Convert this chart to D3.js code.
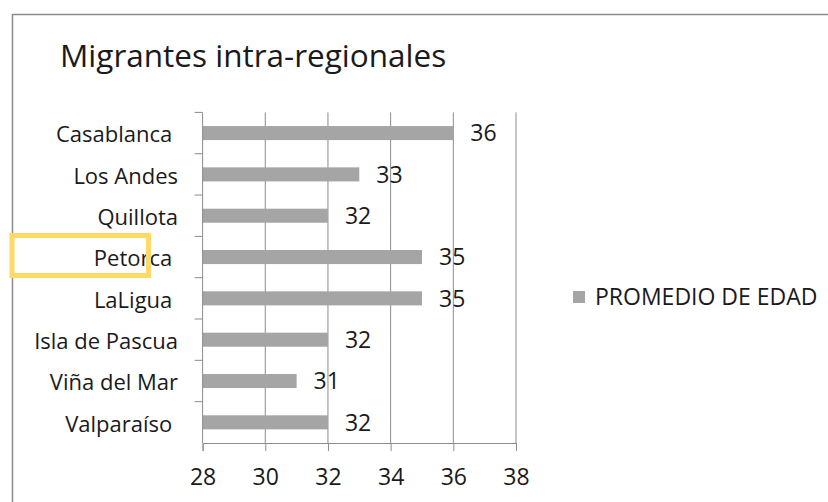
<!DOCTYPE html>
<html>
<head>
<meta charset="utf-8">
<script src="https://cdn.jsdelivr.net/npm/d3@7"></script>
<style>
  body { margin: 0; background: #fff; }
  text { font-family: "Open Sans", Lato, sans-serif; fill: #1a1a1a; }
  .cat { white-space: pre; }
</style>
</head>
<body>
<div id="chart"></div>
<script>
// data
var categories = ['Casablanca ', 'Los Andes', 'Quillota', 'Petorca ', 'LaLigua ', 'Isla de Pascua', 'Viña del Mar', 'Valparaíso ']
var edad = [36, 33, 32, 35, 35, 32, 31, 32]
var xTicks = [28, 30, 32, 34, 36, 38]
var seriesName = 'PROMEDIO DE EDAD'
var title = 'Migrantes intra-regionales'

const svgWidth = 828
const svgHeight = 502
const margin = { top: 112.4, left: 202.6 }
const graphWidth = 313.4
const graphHeight = 330.6

var svg = d3.select('#chart').append('svg')
    .attr('width', svgWidth)
    .attr('height', svgHeight)

// chart frame (only left and top edges show)
svg.append('path')
    .attr('d', `M12.5,${svgHeight} L12.5,14.5 L${svgWidth},14.5`)
    .attr('fill', 'none')
    .attr('stroke', '#8c8c8c')
    .attr('stroke-width', 1.5)

svg.append('text')
    .attr('x', 60)
    .attr('y', 67)
    .attr('font-size', 31.5)
    .text(title)

var graph = svg.append('g')
    .attr('transform', `translate(${margin.left}, ${margin.top})`)

//scales
const x = d3.scaleLinear().domain([28, 38]).range([0, graphWidth])
const y = d3.scaleBand().domain(categories).range([0, graphHeight]).paddingInner(0.66).paddingOuter(0.33)

// gridlines
graph.append('g')
    .selectAll('line')
    .data(xTicks.slice(1))
    .enter()
    .append('line')
    .attr('x1', d => x(d))
    .attr('x2', d => x(d))
    .attr('y1', 0)
    .attr('y2', graphHeight)
    .attr('stroke', '#8c8c8c')
    .attr('stroke-width', 1)

// bars
graph.append('g')
    .selectAll('rect')
    .data(edad)
    .enter()
    .append('rect')
    .attr('x', x(28))
    .attr('y', (d, i) => y(categories[i]))
    .attr('width', d => x(d) - x(28))
    .attr('height', y.bandwidth())
    .attr('fill', '#a5a5a5')

// value labels
graph.append('g')
    .selectAll('text')
    .data(edad)
    .enter()
    .append('text')
    .attr('x', d => x(d) + 17)
    .attr('y', (d, i) => y(categories[i]) + y.bandwidth() / 2)
    .attr('dy', '0.36em')
    .attr('font-size', 23)
    .text(d => d)

// x axis
var xAxis = d3.axisBottom(x).tickValues(xTicks).tickSizeOuter(0).tickSize(8).tickPadding(18)
var xAxisGroup = graph.append('g')
    .attr('transform', `translate(0, ${graphHeight})`)
    .call(xAxis)
xAxisGroup.select('.domain').attr('stroke', '#8c8c8c')
xAxisGroup.selectAll('.tick line').attr('stroke', '#8c8c8c')
xAxisGroup.selectAll('.tick text')
    .attr('font-size', 23)
    .attr('font-family', '"Open Sans", sans-serif')
    .attr('fill', '#1a1a1a')

// y axis: ticks sit on category boundaries
var yAxisGroup = graph.append('g')
yAxisGroup.append('line')
    .attr('x1', 0).attr('x2', 0)
    .attr('y1', 0).attr('y2', graphHeight)
    .attr('stroke', '#8c8c8c')
var step = y.step()
yAxisGroup.selectAll('line.tk')
    .data(d3.range(categories.length))
    .enter()
    .append('line')
    .attr('class', 'tk')
    .attr('x1', -8).attr('x2', 0)
    .attr('y1', i => i * step)
    .attr('y2', i => i * step)
    .attr('stroke', '#8c8c8c')
yAxisGroup.selectAll('text')
    .data(categories)
    .enter()
    .append('text')
    .attr('class', 'cat')
    .attr('x', 178 - margin.left)
    .attr('y', d => y(d) + y.bandwidth() / 2)
    .attr('dy', '0.42em')
    .attr('text-anchor', 'end')
    .attr('font-size', 22)
    .text(d => d)

// highlight box round Petorca
svg.append('rect')
    .attr('x', 12)
    .attr('y', 235.5)
    .attr('width', 136.5)
    .attr('height', 40)
    .attr('fill', 'none')
    .attr('stroke', '#ffd966')
    .attr('stroke-width', 5)

// legend
var legendGroup = svg.append('g').attr('transform', 'translate(573, 291)')
legendGroup.append('rect')
    .attr('width', 12)
    .attr('height', 12)
    .attr('fill', '#a5a5a5')
legendGroup.append('text')
    .attr('x', 22)
    .attr('y', 6)
    .attr('dy', '0.36em')
    .attr('font-size', 23)
    .text(seriesName)
</script>
</body>
</html>
